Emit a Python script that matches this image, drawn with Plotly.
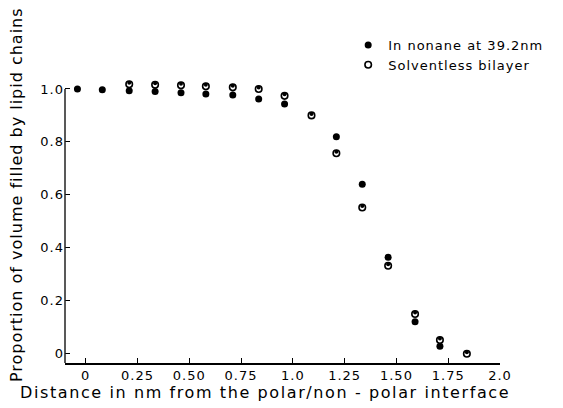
import plotly.graph_objects as go

# Distance from the polar/non-polar interface (nm)
distance_nm = [-0.04, 0.08, 0.21, 0.335, 0.46, 0.58, 0.71, 0.835, 0.96, 1.09,
               1.21, 1.335, 1.46, 1.59, 1.71, 1.84]
# Proportion of volume filled by lipid chains
nonane_39_2nm = [1.0, 0.997, 0.993, 0.99, 0.986, 0.981, 0.977, 0.962, 0.943, 0.9,
                 0.819, 0.64, 0.364, 0.121, 0.028, None]
solventless = [None, None, 1.018, 1.016, 1.014, 1.01, 1.006, 1.0, 0.974, 0.9,
               0.757, 0.552, 0.332, 0.15, 0.052, 0.0]

x_tickvals = [0, 0.25, 0.5, 0.75, 1.0, 1.25, 1.5, 1.75, 2.0]
x_ticktext = ["0", "0.25", "0.50", "0.75", "1.0", "1.25", "1.50", "1.75", "2.0"]
y_tickvals = [0, 0.2, 0.4, 0.6, 0.8, 1.0]
y_ticktext = ["0", "0.2", "0.4", "0.6", "0.8", "1.0"]

FONT = "DejaVu Sans"


def spaced(s, px):
    return f"<span style='letter-spacing:{px}px'>{s}</span>"


fig = go.Figure()
fig.add_trace(go.Scatter(
    x=distance_nm, y=nonane_39_2nm, mode="markers",
    name=spaced("In nonane at 39.2nm", 1.0),
    marker=dict(symbol="circle", size=7, color="black", line=dict(width=0)),
    cliponaxis=False,
))
fig.add_trace(go.Scatter(
    x=distance_nm, y=solventless, mode="markers",
    name=spaced("Solventless bilayer", 1.0), legendgroup="solv",
    marker=dict(symbol="circle", size=6.5, color="white",
                line=dict(width=1.6, color="black")),
    cliponaxis=False,
))
# lower half of the half-filled marker
fig.add_trace(go.Scatter(
    x=distance_nm, y=solventless, mode="markers", legendgroup="solv",
    showlegend=False, hoverinfo="skip",
    marker=dict(symbol="circle", size=4, color="black", angle=180, standoff=1.5,
                line=dict(width=0)),
    cliponaxis=False,
))

fig.update_layout(
    width=563, height=408,
    margin=dict(l=65, r=63, t=81, b=45),
    paper_bgcolor="white", plot_bgcolor="white",
    font=dict(family=FONT, size=13, color="black"),
    showlegend=True,
    legend=dict(x=0.651, xanchor="left", y=1.181, yanchor="top",
                font=dict(family=FONT, size=13, color="black"),
                itemwidth=30, tracegroupgap=0, bgcolor="rgba(0,0,0,0)"),
    xaxis=dict(range=[-0.1, 2.0], tickvals=x_tickvals,
               ticktext=[spaced(t, 1) for t in x_ticktext],
               ticks="inside", ticklen=5, tickwidth=1, tickcolor="black",
               showline=True, linecolor="black", linewidth=1.5,
               showgrid=False, zeroline=False,
               tickfont=dict(family=FONT, size=13)),
    yaxis=dict(range=[-0.035, 1.03], tickvals=y_tickvals,
               ticktext=[spaced(t, 1) for t in y_ticktext],
               ticks="inside", ticklen=5, tickwidth=1, tickcolor="black",
               showline=False, showgrid=False, zeroline=False,
               tickfont=dict(family=FONT, size=13)),
    shapes=[
        dict(type="line", xref="paper", yref="y", x0=0, x1=0, y0=-0.035, y1=1.0,
             line=dict(color="#222", width=1.5)),
    ],
    annotations=[
        dict(text=spaced("Distance in nm from the polar/non - polar interface", 1.6),
             xref="paper", yref="paper", x=0.46, y=-0.106,
             xanchor="center", yanchor="middle", showarrow=False,
             font=dict(family=FONT, size=16)),
        dict(text=spaced("Proportion of volume filled by lipid chains", 1.0),
             xref="paper", yref="paper", x=-0.110, y=0.596, textangle=-90,
             xanchor="center", yanchor="middle", showarrow=False,
             font=dict(family=FONT, size=16)),
    ],
)

fig.write_html("out.html", config={"displayModeBar": False},
               post_script="document.body.style.margin='0';")
